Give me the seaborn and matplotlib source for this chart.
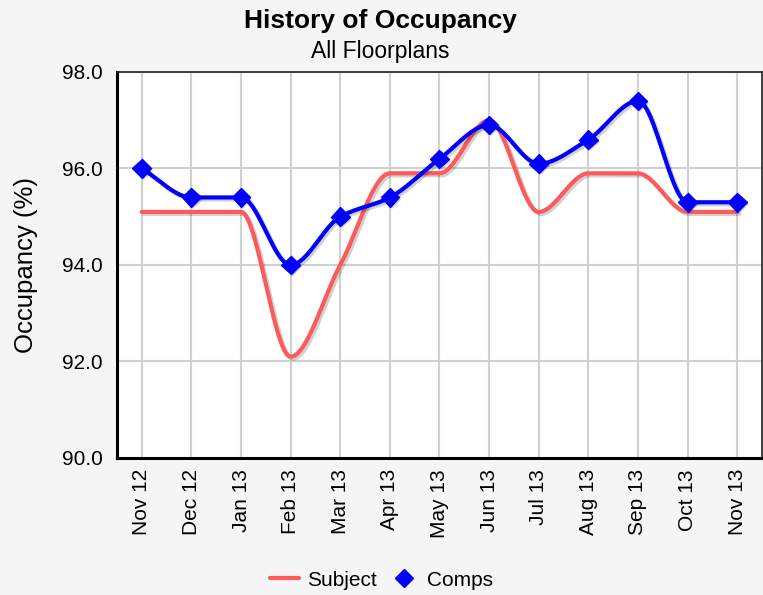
import numpy as np
import pandas as pd
import matplotlib
matplotlib.use('Agg')
import matplotlib.pyplot as plt
import matplotlib.patheffects as pe
import seaborn as sns

# data
months = ['Nov 12', 'Dec 12', 'Jan 13', 'Feb 13', 'Mar 13', 'Apr 13', 'May 13',
          'Jun 13', 'Jul 13', 'Aug 13', 'Sep 13', 'Oct 13', 'Nov 13']
subject = [95.1, 95.1, 95.1, 92.1, 94.0, 95.9, 95.9, 97.0, 95.1, 95.9, 95.9, 95.1, 95.1]
comps = [96.0, 95.4, 95.4, 94.0, 95.0, 95.4, 96.2, 96.9, 96.1, 96.6, 97.4, 95.3, 95.3]
y_ticks = [90, 92, 94, 96, 98]


def monotone_curve(y, n=40):
    # Fritsch-Carlson monotone cubic through the points (x = 0..len-1)
    y = np.asarray(y, float)
    x = np.arange(len(y), dtype=float)
    d = np.diff(y)
    m = np.zeros_like(y)
    m[0], m[-1] = d[0], d[-1]
    for i in range(1, len(y) - 1):
        if d[i - 1] * d[i] > 0:
            m[i] = 2 / (1 / d[i - 1] + 1 / d[i])
    xs, ys = [], []
    for i in range(len(y) - 1):
        t = np.linspace(0, 1, n, endpoint=(i == len(y) - 2))
        h00 = 2 * t**3 - 3 * t**2 + 1
        h10 = t**3 - 2 * t**2 + t
        h01 = -2 * t**3 + 3 * t**2
        h11 = t**3 - t**2
        xs.append(x[i] + t)
        ys.append(h00 * y[i] + h10 * m[i] + h01 * y[i + 1] + h11 * m[i + 1])
    return np.concatenate(xs), np.concatenate(ys)


sns.set_theme(style='white')
plt.rcParams['font.family'] = ['Liberation Sans', 'DejaVu Sans']
plt.rcParams['text.color'] = 'black'
plt.rcParams['xtick.color'] = 'black'
plt.rcParams['ytick.color'] = 'black'
plt.rcParams['axes.labelcolor'] = 'black'

fig = plt.figure(figsize=(7.63, 5.95), dpi=100, facecolor='#f5f5f5')
ax = fig.add_axes([0.1533, 0.2303, 0.8454, 0.6487])
ax.set_facecolor('white')

shadow = [pe.SimpleLineShadow(offset=(1.5, -1.5), shadow_color='black', alpha=0.18),
          pe.Normal()]

sx, sy = monotone_curve(subject)
cx, cy = monotone_curve(comps)
curves = pd.DataFrame({'x': np.concatenate([sx, cx]),
                       'y': np.concatenate([sy, cy]),
                       'series': ['Subject'] * len(sx) + ['Comps'] * len(cx)})

sns.lineplot(data=curves, x='x', y='y', hue='series',
             palette={'Subject': '#ff5a5a', 'Comps': '#0000ff'},
             linewidth=3, sort=False, legend=False, ax=ax, zorder=3)
for line in ax.lines:
    line.set_path_effects(shadow)

pts = pd.DataFrame({'x': np.arange(len(months)), 'y': comps})
ax.plot(pts['x'], pts['y'], linestyle='none', marker='D', markersize=9.5,
        color='#0000ff', zorder=4,
        path_effects=[pe.SimplePatchShadow(offset=(1.5, -1.5), alpha=0.18), pe.Normal()])

ax.set_xlim(-0.5, len(months) - 0.5)
ax.set_ylim(90, 98)
ax.set_xticks(range(len(months)))
ax.set_xticklabels(months, rotation=90, fontsize=15)
ax.set_yticks(y_ticks)
ax.set_yticklabels([f'{v:.1f}' for v in y_ticks], fontsize=15)
ax.tick_params(axis='x', length=0, pad=8)
ax.tick_params(axis='y', length=0, pad=10)
ax.grid(True, color='#d0d0d0', linewidth=1.5)
ax.set_axisbelow(True)
ax.set_xlabel('')
ax.set_ylabel('Occupancy (%)', fontsize=18.5)
ax.yaxis.set_label_coords(-0.122, 0.5)

for side in ['top', 'right']:
    ax.spines[side].set_color('#222222')
    ax.spines[side].set_linewidth(1.2)
for side in ['left', 'bottom']:
    ax.spines[side].set_color('black')
    ax.spines[side].set_linewidth(2.2)

fig.text(0.498, 0.965, 'History of Occupancy', ha='center', va='center',
         fontsize=19, fontweight='bold')
fig.text(0.498, 0.913, 'All Floorplans', ha='center', va='center', fontsize=16.5)

handles = [plt.Line2D([], [], color='#ff5a5a', linewidth=3, label='Subject'),
           plt.Line2D([], [], color='#0000ff', marker='D', markersize=9,
                      linestyle='none', label='Comps')]
fig.legend(handles=handles, loc='center', bbox_to_anchor=(0.5, 0.025), ncol=2,
           frameon=False, fontsize=15, handlelength=1.4, columnspacing=0.6,
           handletextpad=0.4)

fig.savefig('out.png', dpi=100, facecolor=fig.get_facecolor())
